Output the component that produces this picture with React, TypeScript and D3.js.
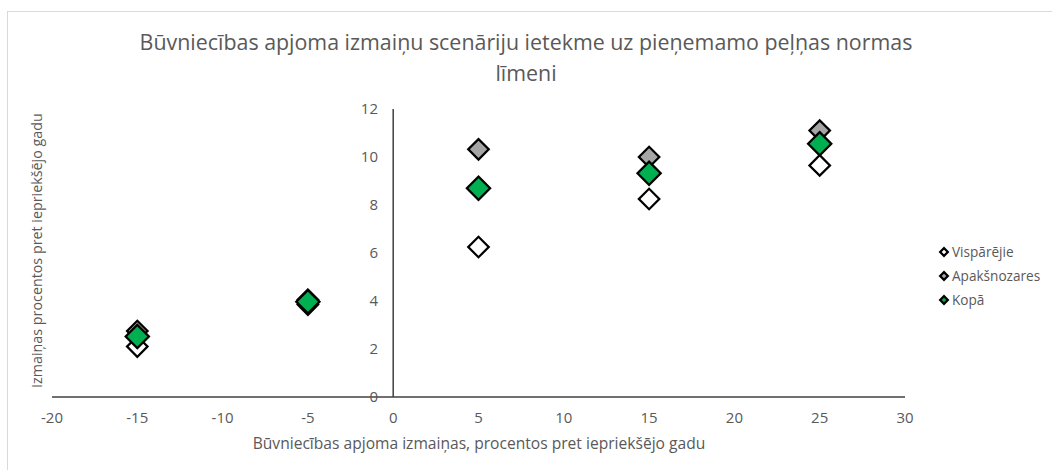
import React from 'react';
import * as d3 from 'd3';

// scenario values
const scenarios = [-15, -5, 5, 15, 25];
const visparejie = [2.1, 3.85, 6.25, 8.25, 9.65];
const apaksnozares = [2.75, 4.05, 10.32, 10.0, 11.1];
const kopa = [2.52, 3.97, 8.7, 9.32, 10.55];

const xTicks = [-20, -15, -10, -5, 0, 5, 10, 15, 20, 25, 30];
const yTicks = [0, 2, 4, 6, 8, 10, 12];

const series = [
  { name: 'Vispārējie', values: visparejie, fill: '#ffffff', size: 210 },
  { name: 'Apakšnozares', values: apaksnozares, fill: '#a5a5a5', size: 210 },
  { name: 'Kopā', values: kopa, fill: '#00b050', size: 270 },
];

const FONT = '"Open Sans", sans-serif';
const TEXT = '#595959';

const App = () => {
  const width = 1052;
  const height = 470;

  const x = d3.scaleLinear().domain([-20, 30]).range([52, 905]);
  const y = d3.scaleLinear().domain([0, 12]).range([397, 109]);

  const diamond = (area: number) => d3.symbol().type(d3.symbolSquare).size(area)()!;

  return (
    <svg
      width={width}
      height={height}
      style={{ position: 'absolute', left: 0, top: 0, background: '#fff' }}
      fontFamily={FONT}
    >
      {/* chart frame */}
      <rect x={7.5} y={11.5} width={1100} height={500} fill="#fff" stroke="#d9d9d9" />

      {/* title */}
      <text x={526} y={50} textAnchor="middle" fontSize={21.4} fill={TEXT}>
        Būvniecības apjoma izmaiņu scenāriju ietekme uz pieņemamo peļņas normas
      </text>
      <text x={526} y={81} textAnchor="middle" fontSize={21.4} fill={TEXT}>
        līmeni
      </text>

      {/* axes lines */}
      <line x1={x(-20)} x2={x(30)} y1={y(0)} y2={y(0)} stroke="#404040" strokeWidth={1.5} />
      <line x1={x(0)} x2={x(0)} y1={y(0)} y2={y(12)} stroke="#404040" strokeWidth={1.5} />

      {/* x tick labels */}
      {xTicks.map(t => (
        <text key={'x' + t} x={x(t)} y={423} textAnchor="middle" fontSize={15} fill={TEXT}>
          {t}
        </text>
      ))}

      {/* y tick labels */}
      {yTicks.map(t => (
        <text key={'y' + t} x={378} y={y(t)} dy="0.35em" textAnchor="end" fontSize={15} fill={TEXT}>
          {t}
        </text>
      ))}

      {/* axis titles */}
      <text x={479} y={449} textAnchor="middle" fontSize={15.6} fill={TEXT}>
        Būvniecības apjoma izmaiņas, procentos pret iepriekšējo gadu
      </text>
      <text
        transform={`translate(42,${y(6.1)}) rotate(-90)`}
        textAnchor="middle"
        fontSize={14.3}
        fill={TEXT}
      >
        Izmaiņas procentos pret iepriekšējo gadu
      </text>

      {/* markers */}
      {series.map(s => (
        <g key={s.name}>
          {s.values.map((v, i) => (
            <path
              key={i}
              d={diamond(s.size)}
              transform={`translate(${x(scenarios[i])},${y(v)}) rotate(45)`}
              fill={s.fill}
              stroke="#000"
              strokeWidth={2.25}
            />
          ))}
        </g>
      ))}

      {/* legend */}
      {series.map((s, i) => (
        <g key={'lg' + s.name} transform={`translate(944,${252 + i * 24})`}>
          <path d={diamond(30)} transform="rotate(45)" fill={s.fill} stroke="#000" strokeWidth={2.2} />
          <text x={8} dy="0.35em" fontSize={13.6} fill={TEXT}>
            {s.name}
          </text>
        </g>
      ))}
    </svg>
  );
};

export default App;
